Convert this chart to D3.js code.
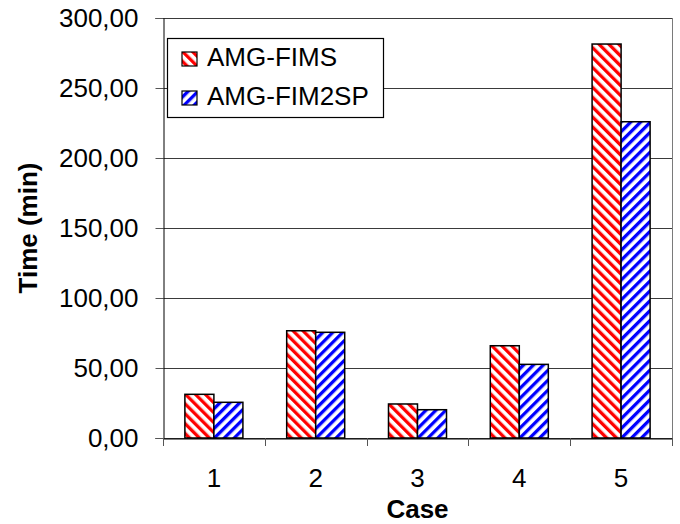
<!DOCTYPE html>
<html>
<head>
<meta charset="utf-8">
<script src="https://cdn.jsdelivr.net/npm/d3@7/dist/d3.min.js"></script>
<style>
  html, body { margin: 0; padding: 0; background: #fff; }
  svg { display: block; font-family: "Liberation Sans", Arial, sans-serif; }
</style>
</head>
<body>
<svg id="chart" width="680" height="524"></svg>
<script>
const categories = ["1", "2", "3", "4", "5"];
const seriesNames = ["AMG-FIMS", "AMG-FIM2SP"];
const fimsValues = [31.2, 76.6, 24.3, 65.9, 281.4];
const fim2spValues = [25.5, 75.5, 20.2, 52.6, 225.9];
const yTicks = [0, 50, 100, 150, 200, 250, 300];
const xTitle = "Case";
const yTitle = "Time (min)";

const svg = d3.select("#chart");
const plot = { left: 163, right: 672, top: 18, bottom: 438 };

const defs = svg.append("defs");
function stripe(id, color, angle) {
  const s = 7;
  const p = defs.append("pattern")
    .attr("id", id)
    .attr("patternUnits", "userSpaceOnUse")
    .attr("width", s).attr("height", s)
    .attr("patternTransform", `rotate(${angle})`);
  p.append("rect").attr("width", s).attr("height", s).attr("fill", "#fff");
  p.append("rect").attr("width", 3.3).attr("height", s).attr("fill", color);
}
stripe("pRed", "#ff0000", -45);
stripe("pBlue", "#0000ff", 45);
const fills = ["url(#pRed)", "url(#pBlue)"];

const x = d3.scaleBand().domain(categories)
  .range([plot.left, plot.right]).paddingInner(0.43).paddingOuter(0.215);
const xs = d3.scaleBand().domain(seriesNames).range([0, x.bandwidth()]);
const y = d3.scaleLinear().domain([0, 300]).range([plot.bottom, plot.top]);

// gridlines
svg.append("g").selectAll("line").data(yTicks).join("line")
  .attr("x1", plot.left).attr("x2", plot.right)
  .attr("y1", d => Math.round(y(d)) + 0.5).attr("y2", d => Math.round(y(d)) + 0.5)
  .attr("stroke", "#3a3a3a").attr("stroke-width", 1);
// right border
svg.append("line")
  .attr("x1", plot.right + 0.5).attr("x2", plot.right + 0.5)
  .attr("y1", plot.top).attr("y2", plot.bottom)
  .attr("stroke", "#7a7a7a").attr("stroke-width", 1);

// bars
const data = categories.map((c, i) => ({ c, vals: [fimsValues[i], fim2spValues[i]] }));
const groups = svg.append("g").selectAll("g").data(data).join("g")
  .attr("transform", d => `translate(${x(d.c)},0)`);
groups.selectAll("rect").data(d => d.vals.map((v, j) => ({ v, s: seriesNames[j], j })))
  .join("rect")
  .attr("x", d => xs(d.s))
  .attr("width", xs.bandwidth())
  .attr("y", d => y(d.v))
  .attr("height", d => y(0) - y(d.v))
  .attr("fill", d => fills[d.j])
  .attr("stroke", "#000").attr("stroke-width", 1.5);

// y axis
const yAxis = d3.axisLeft(y).tickValues(yTicks).tickSize(8).tickPadding(17)
  .tickFormat(d => d3.format(".2f")(d).replace(".", ","));
const gy = svg.append("g").attr("transform", `translate(${plot.left + 0.5},0)`).call(yAxis);
gy.select(".domain").attr("stroke", "#000");
gy.selectAll(".tick line").attr("stroke", "#555");
gy.selectAll("text").attr("font-size", 26).attr("fill", "#000")
  .attr("font-family", "'Liberation Sans', Arial, sans-serif");

// x axis
const xAxis = d3.axisBottom(x).tickSize(0).tickPadding(30);
const gx = svg.append("g").attr("transform", `translate(0,${plot.bottom + 0.5})`).call(xAxis);
gx.select(".domain").attr("stroke", "#000");
gx.selectAll("text").attr("font-size", 26).attr("fill", "#000")
  .attr("font-family", "'Liberation Sans', Arial, sans-serif");
// boundary ticks
const bounds = categories.map(c => x(c) - x.step() * x.paddingInner() / 2)
  .concat([plot.right]);
svg.append("g").selectAll("line").data(bounds).join("line")
  .attr("x1", d => Math.round(d) + 0.5).attr("x2", d => Math.round(d) + 0.5)
  .attr("y1", plot.bottom).attr("y2", plot.bottom + 8)
  .attr("stroke", "#555");

// axis titles
svg.append("text").text(xTitle)
  .attr("x", (plot.left + plot.right) / 2).attr("y", 518)
  .attr("text-anchor", "middle").attr("font-size", 26).attr("font-weight", "bold");
svg.append("text").text(yTitle)
  .attr("transform", `translate(37,${(plot.top + plot.bottom) / 2}) rotate(-90)`)
  .attr("text-anchor", "middle").attr("font-size", 26).attr("font-weight", "bold");

// legend
const lg = svg.append("g");
lg.append("rect").attr("x", 167.5).attr("y", 38.5).attr("width", 216).attr("height", 79)
  .attr("fill", "#fff").attr("stroke", "#000").attr("stroke-width", 1.2);
const rows = [66, 105];
seriesNames.forEach((s, i) => {
  lg.append("rect").attr("x", 182).attr("y", rows[i] - 14).attr("width", 15).attr("height", 14)
    .attr("fill", fills[i]).attr("stroke", "#000").attr("stroke-width", 1.2);
  lg.append("text").text(s).attr("x", 207).attr("y", rows[i])
    .attr("font-size", 26).attr("fill", "#000");
});
</script>
</body>
</html>
